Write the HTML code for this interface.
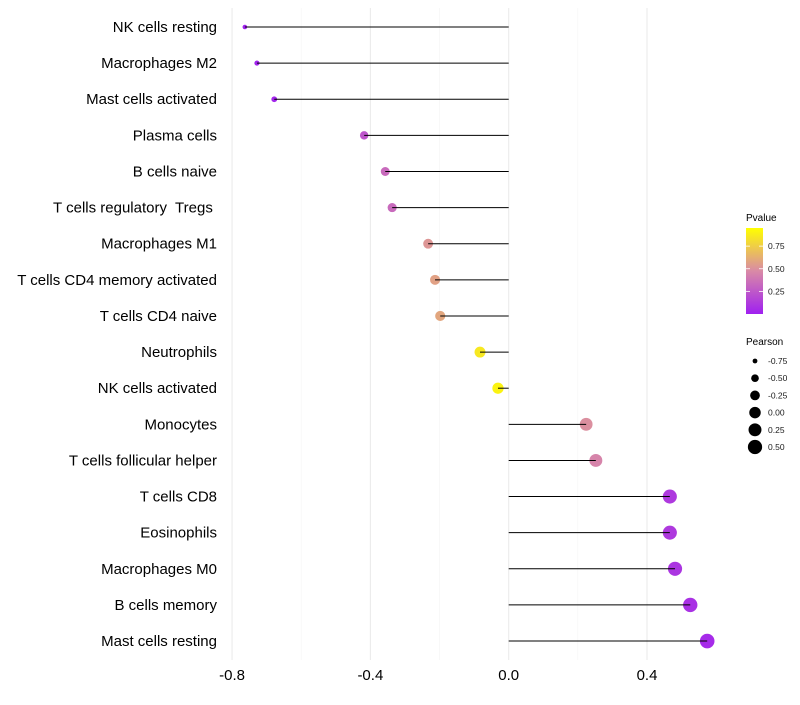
<!DOCTYPE html>
<html><head><meta charset="utf-8">
<style>
body{margin:0;background:#fff;font-family:"Liberation Sans",sans-serif;}
svg text{font-family:"Liberation Sans",sans-serif;white-space:pre;}
</style></head>
<body>
<svg id="chart" width="800" height="700" xmlns="http://www.w3.org/2000/svg">
<g id="grid"></g>
<g id="marks"></g>
<g id="ylabels"></g>
<g id="xlabels"></g>
<g id="legend">
  <defs><linearGradient id="pg" x1="0" y1="1" x2="0" y2="0">
    <stop offset="0" stop-color="#A020F0"/><stop offset="0.5" stop-color="#D98AA6"/><stop offset="1" stop-color="#FFFF00"/>
  </linearGradient></defs>
  <text x="746" y="221" font-size="10">Pvalue</text>
  <rect x="746" y="228" width="17" height="86" fill="url(#pg)"/>
  <g id="cbticks"></g>
  <text x="746" y="345" font-size="10">Pearson</text>
  <g id="sizeleg"></g>
</g>
</svg>
<script>
const categories = ["NK cells resting","Macrophages M2","Mast cells activated","Plasma cells","B cells naive","T cells regulatory  Tregs ","Macrophages M1","T cells CD4 memory activated","T cells CD4 naive","Neutrophils","NK cells activated","Monocytes","T cells follicular helper","T cells CD8","Eosinophils","Macrophages M0","B cells memory","Mast cells resting"];
const pearson = [-0.763,-0.728,-0.678,-0.418,-0.357,-0.337,-0.233,-0.213,-0.198,-0.083,-0.031,0.224,0.252,0.466,0.466,0.481,0.525,0.574];
const pvalue = [0.01,0.02,0.03,0.25,0.35,0.35,0.55,0.6,0.62,0.9,0.95,0.52,0.47,0.12,0.12,0.1,0.08,0.05];
const xTicks = [-0.8,-0.4,0.0,0.4];
const xTickLabels = ["-0.8","-0.4","0.0","0.4"];
const xMinor = [-0.6,-0.2,0.2];
const cbTicks = [0.25,0.5,0.75];
const cbTickLabels = ["0.25","0.50","0.75"];
const sizeBreaks = [-0.75,-0.5,-0.25,0,0.25,0.5];
const sizeLabels = ["-0.75","-0.50","-0.25","0.00","0.25","0.50"];

const NS="http://www.w3.org/2000/svg";
function mk(t,a,p){const e=document.createElementNS(NS,t);for(const k in a)e.setAttribute(k,a[k]);p.appendChild(e);return e;}
const x = v => 508.7 + v*345.8;
const y = i => 27 + i*36.12;
const r = v => Math.sqrt(4 + (v+0.8)*36);
const cbY = v => 314 - v*90.5;
function lerp(a,b,t){return a+(b-a)*t;}
function col(p){
  const s=[[0,[160,32,240]],[0.5,[217,138,166]],[1,[255,255,0]]];
  p=Math.max(0,Math.min(1,p));
  const k=p<0.5?0:1;const t=(p-s[k][0])/0.5;
  const c=s[k][1].map((v,j)=>Math.round(lerp(v,s[k+1][1][j],t)));
  return `rgb(${c})`;
}
const grid=document.getElementById('grid');
xMinor.forEach(v=>{const l=mk('line',{x1:x(v),x2:x(v),y1:8,y2:660,stroke:'#f4f4f4','stroke-width':0.6},grid);

});
xTicks.forEach(v=>{const l=mk('line',{x1:x(v),x2:x(v),y1:8,y2:660,stroke:'#ebebeb','stroke-width':1.1},grid);

});
const marks=document.getElementById('marks'),yl=document.getElementById('ylabels');
categories.forEach((c,i)=>{
  const d=mk('circle',{cx:x(pearson[i]),cy:y(i),r:r(pearson[i]),fill:col(pvalue[i])},marks);
  
  
  const ln=mk('line',{x1:x(0),x2:x(pearson[i]),y1:y(i),y2:y(i),stroke:'#000','stroke-width':1},marks);
  
  
  const t=mk('text',{x:217,y:y(i)+5,'text-anchor':'end','font-size':15,fill:'#000'},yl);
  t.textContent=c;
  
  
});
const xl=document.getElementById('xlabels');
xTicks.forEach((v,i)=>{const t=mk('text',{x:x(v),y:680,'text-anchor':'middle','font-size':15,fill:'#000'},xl);
t.textContent=xTickLabels[i];

});
const cb=document.getElementById('cbticks');
cbTicks.forEach((v,i)=>{
  mk('line',{x1:746,x2:750,y1:cbY(v),y2:cbY(v),stroke:'#fff','stroke-width':0.8},cb);
  mk('line',{x1:759,x2:763,y1:cbY(v),y2:cbY(v),stroke:'#fff','stroke-width':0.8},cb);
  const t=mk('text',{x:768,y:cbY(v)+3,'font-size':8.5,fill:'#1a1a1a'},cb);
  t.textContent=cbTickLabels[i];
  
  
});
const sl=document.getElementById('sizeleg');
sizeBreaks.forEach((v,i)=>{
  const yy=361+i*17.2;
  const c=mk('circle',{cx:755,cy:yy,r:r(v),fill:'#000'},sl);
  
  
  const t=mk('text',{x:768,y:yy+3,'font-size':8.5,fill:'#1a1a1a'},sl);
  t.textContent=sizeLabels[i];
  
  
});
</script>
</body></html>
